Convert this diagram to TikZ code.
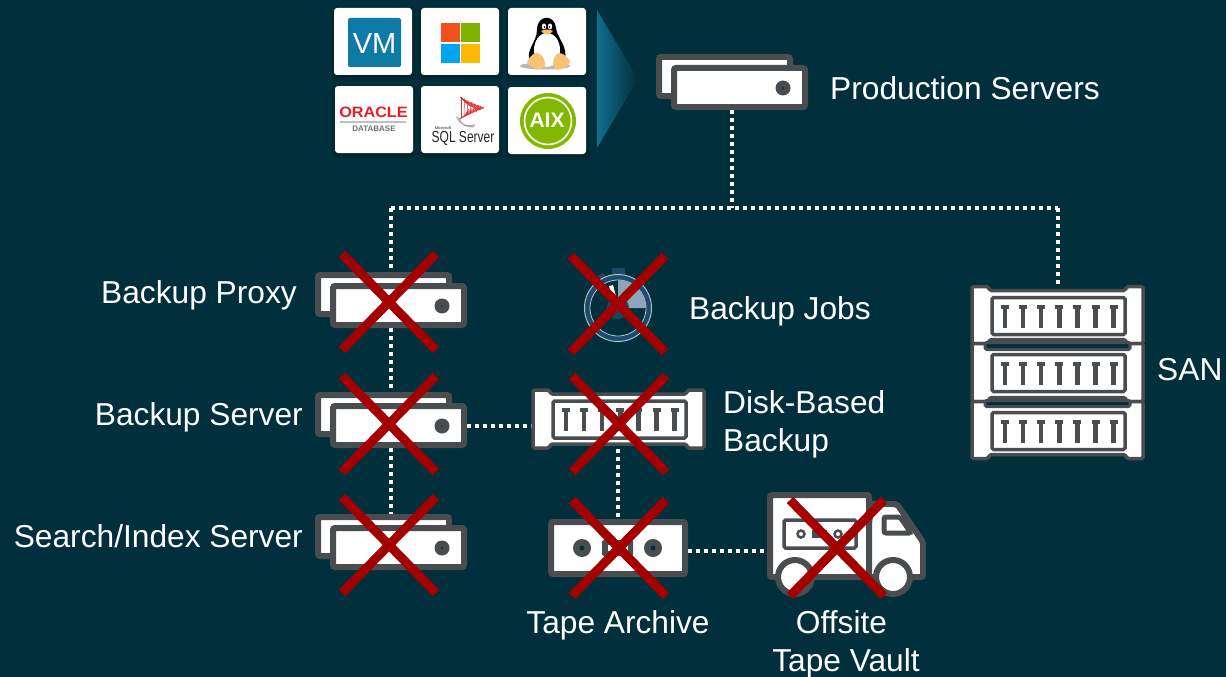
\documentclass[tikz,border=0pt]{standalone}
\usepackage{fontspec}
\setmainfont{Liberation Sans}
\usetikzlibrary{calc}
\definecolor{bgc}{HTML}{012F3C}
\definecolor{iconc}{HTML}{4A4D50}
\definecolor{crossc}{HTML}{A50000}
\definecolor{tealc}{HTML}{0F6E8C}
\definecolor{vmblue}{RGB}{15,122,166}
\definecolor{msred}{RGB}{241,81,27}
\definecolor{msgreen}{RGB}{128,179,0}
\definecolor{msblue}{RGB}{0,165,239}
\definecolor{msyellow}{RGB}{255,184,0}
\definecolor{tuxbeak}{RGB}{245,190,100}
\definecolor{tuxfoot}{RGB}{245,195,115}
\definecolor{orared}{RGB}{230,30,40}
\definecolor{sqlred}{RGB}{220,50,50}
\definecolor{aixgreen}{RGB}{130,185,0}
\definecolor{swdark}{RGB}{28,70,98}
\definecolor{swring}{RGB}{30,75,105}
\definecolor{swpale}{RGB}{170,195,210}
\definecolor{swwedge}{RGB}{140,165,185}
\tikzset{
  x=1pt,y=-1pt,
  lbl/.style={text=white,font=\fontsize{31.7}{38}\selectfont,inner sep=0pt,align=left},
  lnk/.style={draw=white,line width=4pt,dash pattern=on 4pt off 4pt},
  ico/.style={draw=iconc,fill=white,line width=6pt,rounded corners=2pt},
  thin ico/.style={draw=iconc,line width=3.5pt,rounded corners=1.5pt},
  xmark/.style={draw=crossc,line width=9pt},
  anchorbox/.style={draw=none,inner sep=0pt,outer sep=0pt},
  tile/.style={fill=white,rounded corners=3pt,draw=none,inner sep=0pt,outer sep=0pt,minimum width=78pt,minimum height=67pt},
}
\newcommand{\XMark}[2]{\draw[xmark] (#1-47,#2-49) -- (#1+47,#2+47) (#1+47,#2-49) -- (#1-47,#2+47);}
\newcommand{\ServerPair}[2]{\begin{scope}[shift={(#1,#2)}]
  \draw[ico] (3,3) rectangle (134,42);
  \draw[ico] (18,14) rectangle (149,53);
  \fill[iconc] (127,34) circle (7.5);
  \fill[bgc] (127,34) circle (1);
\end{scope}}
\newcommand{\TBars}{\foreach \i in {0,...,6}{
    \fill[iconc] ({13+\i*18.1-4},7) rectangle ({13+\i*18.1+4},11);
    \fill[iconc] ({13+\i*18.1-2.2},7) rectangle ({13+\i*18.1+2.2},30);
  }}
\newcommand{\RackUnit}[3]{\begin{scope}[shift={(#1,#2)}]
  \draw[thin ico,fill=white] (0,0) -- (16,0) -- (18,4) -- (153,4) -- (155,0) -- (171,0) -- (171,#3) -- (155,#3) -- (153,#3-4) -- (18,#3-4) -- (16,#3) -- (0,#3) -- cycle;
  \begin{scope}[shift={(20,11)}]
    \draw[thin ico] (0,0) rectangle (133,37);
    \TBars
  \end{scope}
\end{scope}}
\newcommand{\TileShadow}[1]{\fill[black,opacity=.10,rounded corners=4pt] ($(#1.north west)+(-3,-1)$) rectangle ($(#1.south east)+(4,6)$);
  \fill[black,opacity=.10,rounded corners=3pt] ($(#1.north west)+(-1,0)$) rectangle ($(#1.south east)+(2,3)$);}
\begin{document}
\begin{tikzpicture}
\useasboundingbox (0,0) rectangle (1226,677);
\fill[bgc] (0,0) rectangle (1226,677);

% anchor nodes of the icons
\node[anchorbox,minimum width=152pt,minimum height=56pt] (prod) at (732,82) {};
\node[anchorbox,minimum width=152pt,minimum height=56pt] (proxy) at (391,300) {};
\node[anchorbox,minimum width=152pt,minimum height=56pt] (bserver) at (391,420) {};
\node[anchorbox,minimum width=152pt,minimum height=56pt] (search) at (391,542) {};
\node[anchorbox,minimum width=172pt,minimum height=60pt] (disk) at (618,419) {};
\node[anchorbox,minimum width=140pt,minimum height=58pt] (tape) at (618,548) {};
\node[anchorbox,minimum width=159pt,minimum height=90pt] (truck) at (847,537) {};
\node[anchorbox,minimum width=174pt,minimum height=175pt] (san) at (1057,373) {};
\coordinate (hub) at (732,208);
\coordinate (hubl) at (391,208);
\coordinate (hubr) at (1058,208);
\coordinate (y1) at (0,426);
\coordinate (y2) at (0,551);

% connectors
\draw[lnk] (prod.south) -- (hub);
\draw[lnk] (hubl) -- (hubr);
\draw[lnk] (hubl) -- (search.north -| hubl);
\draw[lnk] (hubr) -- (san.north -| hubr);
\draw[lnk] (bserver.east |- y1) -- (disk.west |- y1);
\draw[lnk] (disk.south) -- (tape.north);
\draw[lnk] (tape.east |- y2) -- (truck.west |- y2);

% tiles
\coordinate (c1) at (373,41.5);
\coordinate (c2) at (460,41.5);
\coordinate (c3) at (547,41.5);
\coordinate (c4) at (374,119.5);
\coordinate (c5) at (460,119.5);
\coordinate (c6) at (547,120.5);
\foreach \n in {1,...,6}{
  \path (c\n) node[tile,fill=none] (s\n) {};
  \TileShadow{s\n}
}
\node[tile] (t1) at (c1) {};
\node[tile] (t2) at (c2) {};
\node[tile] (t3) at (c3) {};
\node[tile] (t4) at (c4) {};
\node[tile] (t5) at (c5) {};
\node[tile] (t6) at (c6) {};
% VM
\fill[vmblue,rounded corners=2pt] (348,18) rectangle (401,67);
\node[text=white,inner sep=0pt,font=\fontsize{29}{29}\selectfont] (vm) at (374.5,43.5) {VM};
% Windows
\fill[msred] (441,23) rectangle (460,42);
\fill[msgreen] (461,23) rectangle (480,42);
\fill[msblue] (441,44) rectangle (460,63);
\fill[msyellow] (461,44) rectangle (480,63);
% Tux
\fill[gray!55] (545,66) ellipse (25 and 3.5);
\fill[black] (537,30) .. controls (537,14) and (555,14) .. (556,28) .. controls (557,38) and (568,46) .. (565,60) -- (530,62) .. controls (525,50) and (537,42) .. (537,30) -- cycle;
\fill[white] (547,50) ellipse (13 and 17);
\fill[white] (544,26.5) ellipse (2.2 and 3) (550,26.5) ellipse (2.2 and 3);
\fill[black] (544.5,27) circle (.9) (549.5,27) circle (.9);
\fill[tuxbeak] (541,31) .. controls (545,29) and (549,29) .. (553,31) .. controls (549,36) and (545,36) .. (541,31) -- cycle;
\fill[tuxfoot] (527,62) .. controls (530,56) and (536,50) .. (540,54) .. controls (546,60) and (547,66) .. (542,69) .. controls (536,71) and (528,66) .. (527,62) -- cycle;
\fill[tuxfoot] (570,61) .. controls (566,55) and (559,50) .. (556,55) .. controls (552,60) and (552,67) .. (556,69.5) .. controls (561,71) and (570,66) .. (570,61) -- cycle;
% Oracle
\node[text=orared,inner sep=0pt,font=\bfseries\fontsize{15}{15}\selectfont,xscale=1.08] (oracle) at (373.5,112) {ORACLE};
\fill[gray!50] (340,120.5) rectangle (406,123);
\node[text=gray!90!black,inner sep=0pt,font=\bfseries\fontsize{8}{8}\selectfont] (odb) at (374,129) {DATABASE};
% SQL server
\foreach \a in {0,...,5}{
  \draw[sqlred,line width=.6pt] (460+\a*.5,97+\a*.4) .. controls (470,104+\a) and (478,105+\a*.5) .. (484-\a,108+\a*.5);
  \draw[sqlred,line width=.6pt] (484-\a*3,107+\a*.4) -- (459+\a,119-\a*.5);
  \draw[sqlred,line width=.5pt] (461+\a*3.5,97+\a*1.6) -- (461+\a*3,117-\a*.9);
  \draw[gray!70,line width=.5pt] (456+\a,116+\a*.6) .. controls (458,122) and (466,128) .. (474+\a*.2,127-\a*.5);
}
\node[text=black!85,inner sep=0pt,font=\fontsize{4}{5}\selectfont] (ms) at (443,128) {Microsoft};
\node[text=black!85,inner sep=0pt,font=\fontsize{16}{16}\selectfont,xscale=.75] (sql) at (463,138.5) {SQL Server};
% AIX
\fill[aixgreen] (548,121) circle (28);
\draw[white,line width=1.6pt] (548,121) circle (23.5);
\node[text=white,inner sep=0pt,font=\bfseries\fontsize{21}{21}\selectfont] (aix) at (547,120.5) {AIX};

% fan triangle
\shade[left color=tealc,right color=bgc,draw=none] (597,10) -- (638,79) -- (597,148) -- cycle;

% servers
\ServerPair{656}{54}
\ServerPair{315}{272}
\ServerPair{315}{392}
\ServerPair{315}{514}

% stopwatch
\fill[swdark] (612,268) rectangle (625,280);
\fill[swring] (598,276) -- (603,273) -- (608,279) -- (604,283) -- cycle;
\fill[swring] (618,308) circle (33);
\draw[swpale,line width=1pt] (618,308) circle (33.5);
\fill[bgc] (618,308) circle (28);
\draw[swpale,line width=.8pt] (618,308) circle (28);
\fill[swwedge] (618,308) -- (618,280) arc (-90:0:28) -- cycle;
\fill[swdark] (618,308) circle (11);
\fill[white] (609,286) -- (613,285) -- (618,304) -- (615,305) -- cycle;

% disk
\RackUnit{533}{390}{58}
% SAN
\RackUnit{972}{286.5}{57}
\RackUnit{972}{343.5}{58}
\RackUnit{972}{401.5}{57}
\draw[thin ico,fill=bgc,line width=3pt] (985,342.5) rectangle (1130,349.5);
\draw[thin ico,fill=bgc,line width=3pt] (985,400.5) rectangle (1130,406.5);

% tape
\draw[ico] (551,522) rectangle (685,574);
\fill[iconc] (582,548) circle (9) (653,548) circle (9);
\fill[bgc] (582,548) circle (2.5) (653,548) circle (2.5);
\fill[iconc,rounded corners=2pt] (602,540) rectangle (633,556);
\fill[white] (608,545) rectangle (628,551);

% truck
\draw[ico] (872,504) -- (897,504) -- (923,542) -- (923,577) -- (860,577) -- cycle;
\draw[ico] (770,495) rectangle (869,577);
\draw[thin ico] (784,520) rectangle (856,548);
\draw[iconc,line width=2.5pt,fill=white] (801,534) circle (3.5) (838,534) circle (3.5);
\fill[iconc] (812,530) rectangle (827,538);
\draw[ico,line width=5pt] (884,517) -- (900,517) -- (911,533) -- (884,533) -- cycle;
\draw[iconc,fill=white,line width=6pt] (795,577) circle (17);
\draw[iconc,fill=white,line width=6pt] (893,577) circle (17);

% red crosses
\XMark{389}{303}
\XMark{389}{425}
\XMark{389}{546}
\XMark{618}{305}
\XMark{619}{425}
\XMark{619}{549}
\XMark{837}{549}

% labels
\node[lbl,anchor=west] (lprod) at (830,88) {Production Servers};
\node[lbl,anchor=east] (lproxy) at (297,295) {Backup Proxy};
\node[lbl,anchor=west] (ljobs) at (689,311) {Backup Jobs};
\node[lbl,anchor=east] (lserver) at (303,417) {Backup Server};
\node[lbl,anchor=west] (ldisk) at (723,424) {Disk-Based\\Backup};
\node[lbl,anchor=east] (lsearch) at (303,536) {Search/Index Server};
\node[lbl,anchor=west] (lsan) at (1157,370) {SAN};
\node[lbl,anchor=center] (ltape) at (618,625) {Tape Archive};
\node[lbl,anchor=center,align=center] (lvault) at (846,644) {Offsite\hspace*{9pt}\\Tape Vault};
\end{tikzpicture}
\end{document}
